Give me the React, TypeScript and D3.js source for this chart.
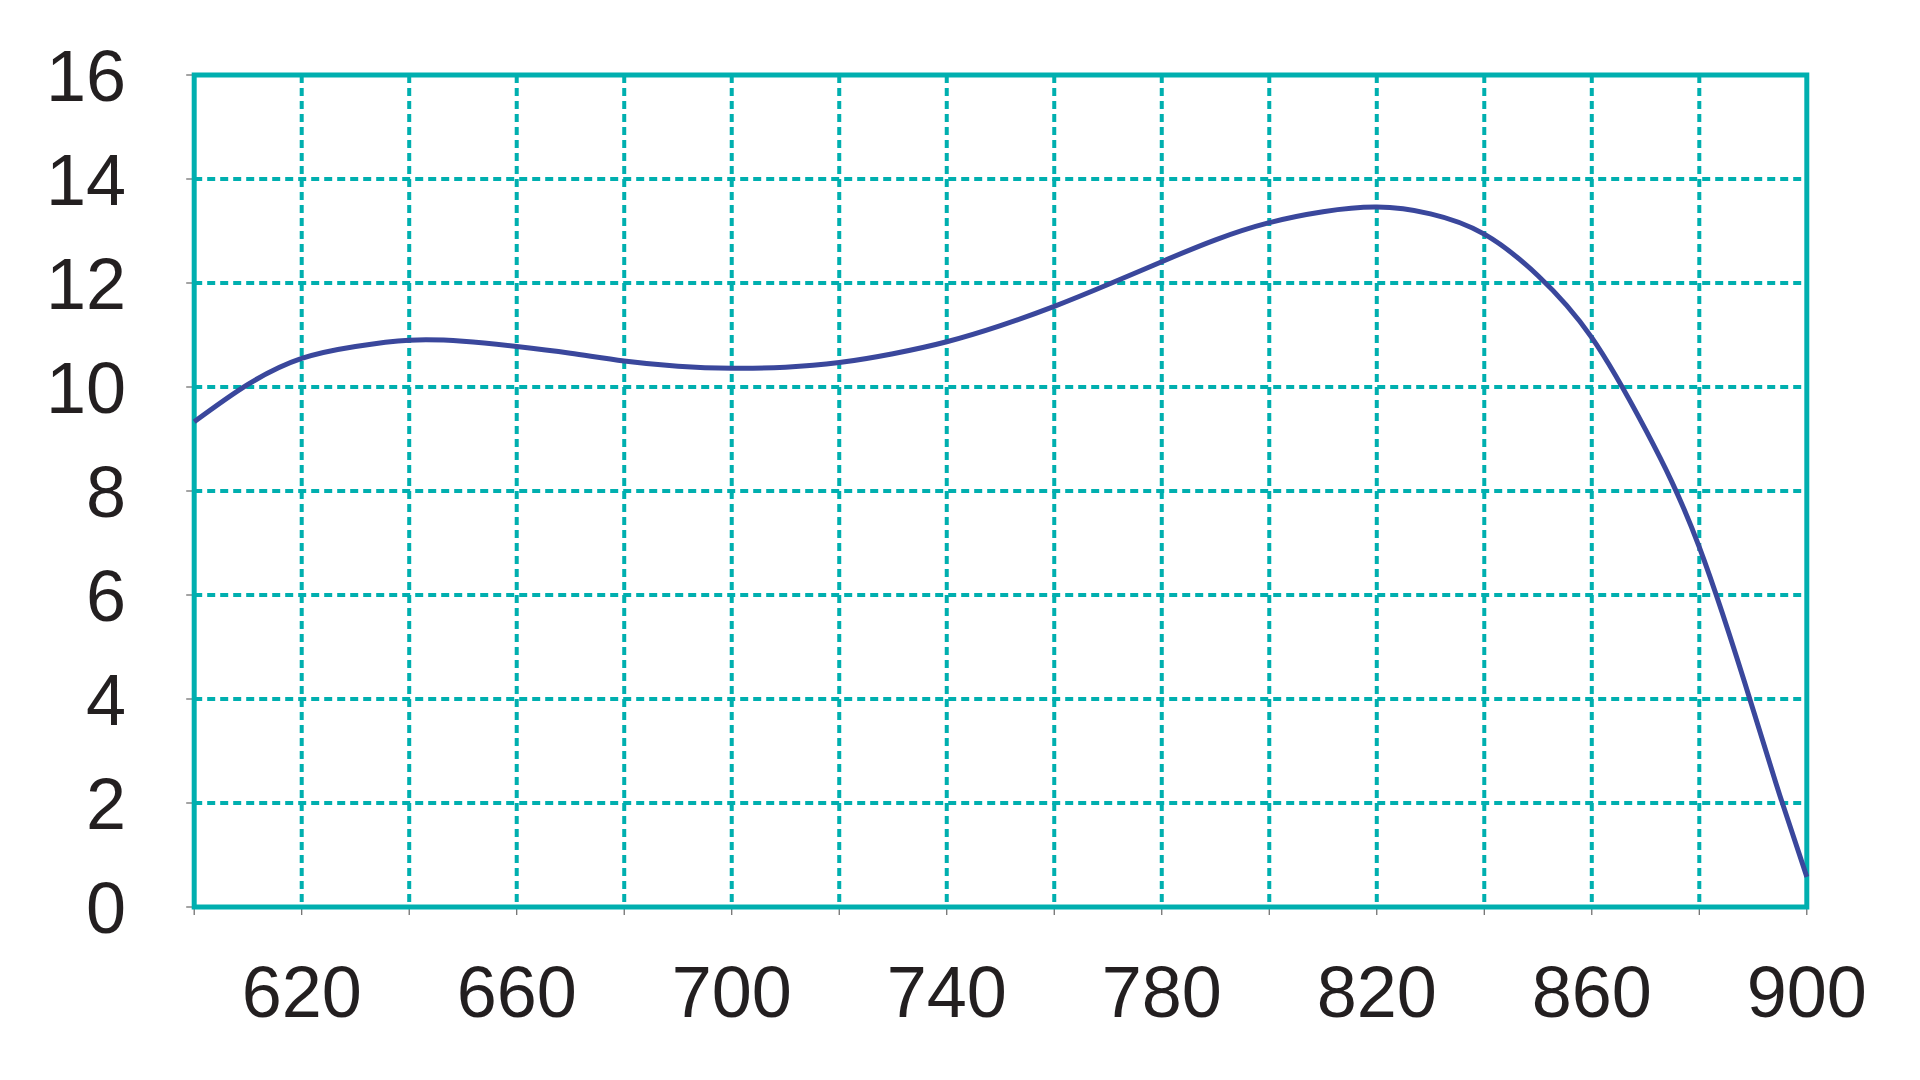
import React from "react";
import * as d3 from "d3";

const xValues = [600, 610, 620, 630, 640, 650, 660, 670, 680, 690, 700, 710, 720, 730, 740, 750, 760, 770, 780, 790, 800, 810, 820, 830, 840, 850, 860, 870, 880, 890, 895, 900];
const yValues = [9.33, 10.05, 10.55, 10.78, 10.9, 10.88, 10.78, 10.65, 10.5, 10.4, 10.36, 10.38, 10.47, 10.64, 10.87, 11.18, 11.55, 11.97, 12.41, 12.83, 13.16, 13.37, 13.46, 13.33, 12.94, 12.14, 10.95, 9.18, 6.92, 3.8, 2.14, 0.58];
const xTickLabels = [620, 660, 700, 740, 780, 820, 860, 900];
const xGrid = [620, 640, 660, 680, 700, 720, 740, 760, 780, 800, 820, 840, 860, 880];
const xTicks = [600, 620, 640, 660, 680, 700, 720, 740, 760, 780, 800, 820, 840, 860, 880, 900];
const yTicks = [0, 2, 4, 6, 8, 10, 12, 14, 16];
const yGrid = [2, 4, 6, 8, 10, 12, 14];

export default function App() {
  const left = 194.2, right = 1806.8, top = 75, bottom = 907;
  const x = d3.scaleLinear().domain([600, 900]).range([left, right]);
  const y = d3.scaleLinear().domain([0, 16]).range([bottom, top]);
  const pts: [number, number][] = xValues.map((v, i) => [v, yValues[i]]);
  const line = d3
    .line<[number, number]>()
    .x((d) => x(d[0]))
    .y((d) => y(d[1]))
    .curve(d3.curveNatural);
  const teal = "#00AFAF";
  const font = "'Liberation Sans', Arial, sans-serif";
  return (
    <svg width={1920} height={1080} style={{ position: "absolute", left: 0, top: 0, background: "#fff" }}>
      <rect x={0} y={0} width={1920} height={1080} fill="#fff" />
      {yGrid.map((v) => (
        <line key={"hy" + v} x1={left} x2={right} y1={y(v)} y2={y(v)} stroke={teal} strokeWidth={4} strokeDasharray="8,5" />
      ))}
      {xGrid.map((v) => (
        <line key={"gx" + v} x1={x(v)} x2={x(v)} y1={top} y2={bottom} stroke={teal} strokeWidth={4} strokeDasharray="8,5" />
      ))}
      {yTicks.map((v) => (
        <line key={"ty" + v} x1={left - 8} x2={left} y1={y(v)} y2={y(v)} stroke="#666" strokeWidth={1.2} />
      ))}
      {xTicks.map((v) => (
        <line key={"tx" + v} x1={x(v)} x2={x(v)} y1={bottom} y2={bottom + 8} stroke="#666" strokeWidth={1.2} />
      ))}
      <rect x={left} y={top} width={right - left} height={bottom - top} fill="none" stroke={teal} strokeWidth={5} />
      <path d={line(pts) || ""} fill="none" stroke="#3A479C" strokeWidth={5} strokeLinecap="butt" />
      {yTicks.map((v) => (
        <text key={"ly" + v} x={126} y={y(v) + 26} textAnchor="end" fontFamily={font} fontSize={72} fill="#231f20">
          {v}
        </text>
      ))}
      {xTickLabels.map((v) => (
        <text key={"lx" + v} x={x(v)} y={bottom + 110} textAnchor="middle" fontFamily={font} fontSize={72} fill="#231f20">
          {v}
        </text>
      ))}
    </svg>
  );
}
